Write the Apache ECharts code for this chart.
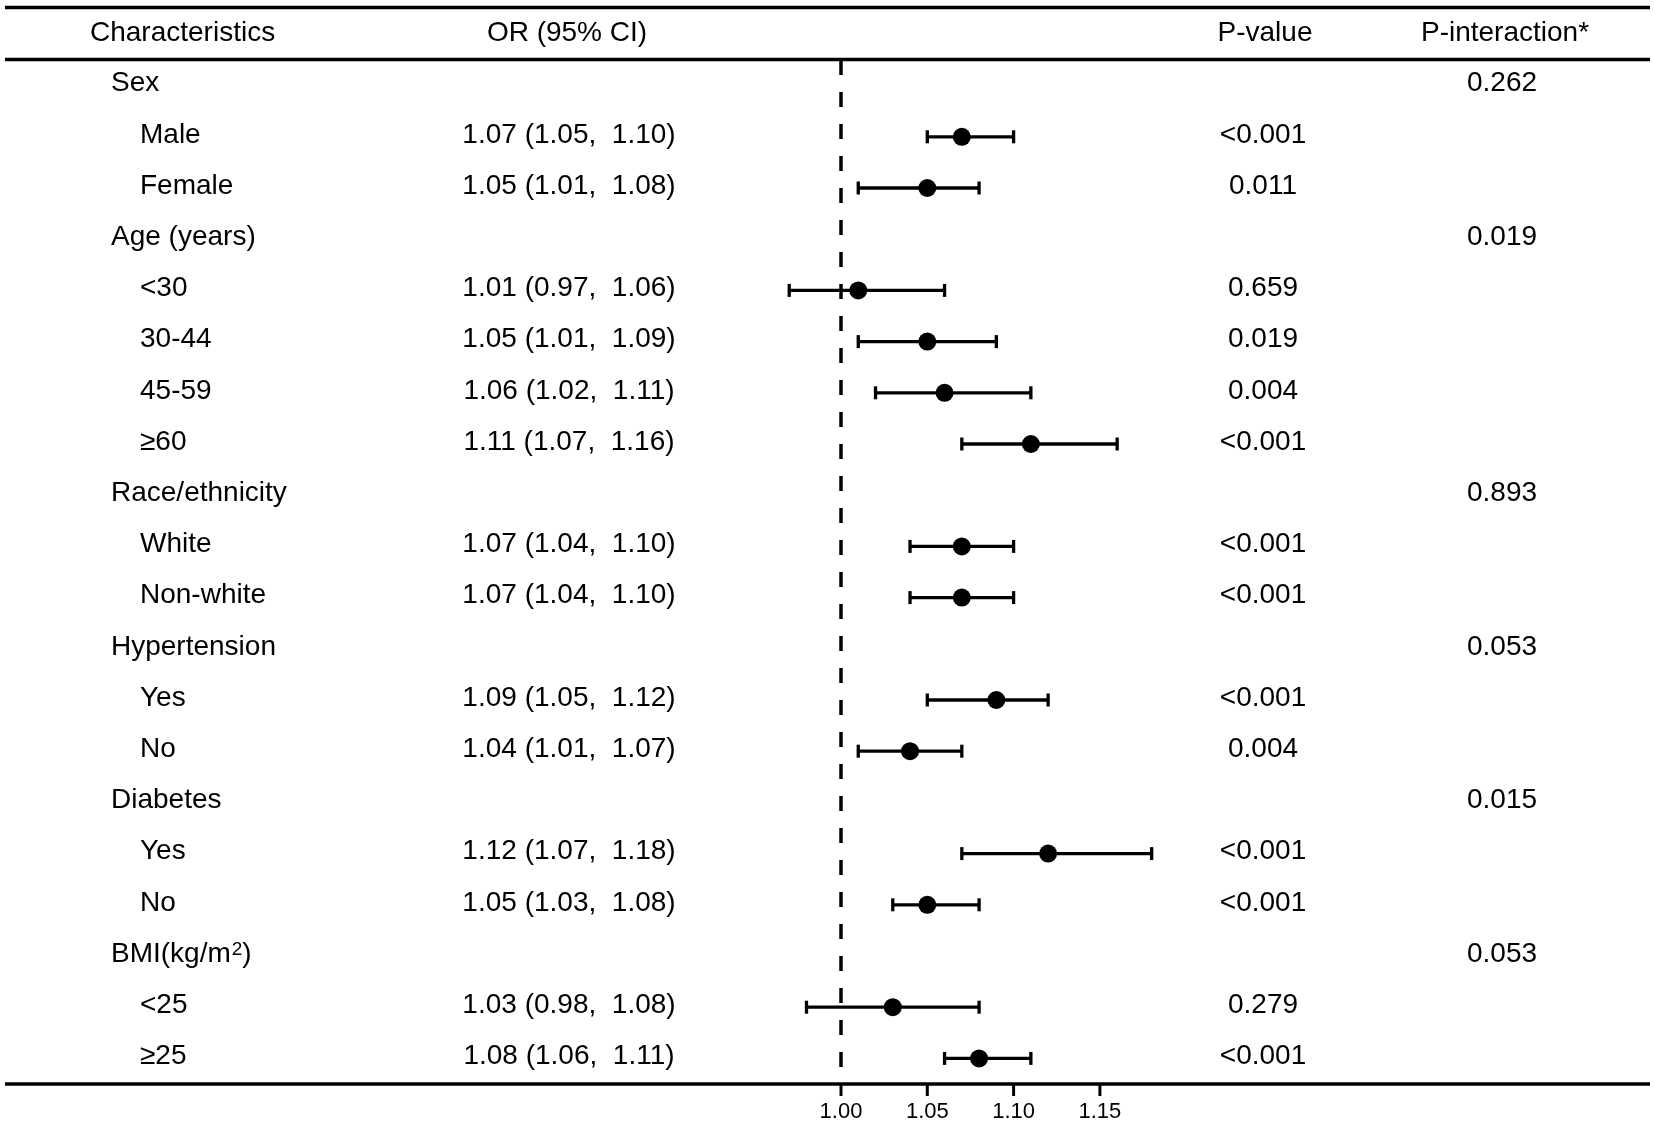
<!DOCTYPE html>
<html>
<head>
<meta charset="utf-8">
<title>Forest plot</title>
<script src="https://cdn.jsdelivr.net/npm/echarts@6/dist/echarts.min.js"></script>
<style>
  html, body { margin: 0; padding: 0; background: #fff; }
  #chart { width: 1654px; height: 1126px; }
</style>
</head>
<body>
<div id="chart"></div>
<script>
// ------------------------------
// Data
// ------------------------------
var rowLabels = [
  "Sex", "Male", "Female",
  "Age (years)", "<30", "30-44", "45-59", "\u226560",
  "Race/ethnicity", "White", "Non-white",
  "Hypertension", "Yes", "No",
  "Diabetes", "Yes", "No",
  "BMI(kg/m{sup|2})", "<25", "\u226525"
];
var isGroup = [1, 0, 0, 1, 0, 0, 0, 0, 1, 0, 0, 1, 0, 0, 1, 0, 0, 1, 0, 0];
var orValues = [null, 1.07, 1.05, null, 1.01, 1.05, 1.06, 1.11, null, 1.07, 1.07, null, 1.09, 1.04, null, 1.12, 1.05, null, 1.03, 1.08];
var ciLower = [null, 1.05, 1.01, null, 0.97, 1.01, 1.02, 1.07, null, 1.04, 1.04, null, 1.05, 1.01, null, 1.07, 1.03, null, 0.98, 1.06];
var ciUpper = [null, 1.10, 1.08, null, 1.06, 1.09, 1.11, 1.16, null, 1.10, 1.10, null, 1.12, 1.07, null, 1.18, 1.08, null, 1.08, 1.11];
var pValues = ["", "<0.001", "0.011", "", "0.659", "0.019", "0.004", "<0.001", "", "<0.001", "<0.001", "", "<0.001", "0.004", "", "<0.001", "<0.001", "", "0.279", "<0.001"];
var pInteraction = ["0.262", "", "", "0.019", "", "", "", "", "0.893", "", "", "0.053", "", "", "0.015", "", "", "0.053", "", ""];
var tickValues = [1.0, 1.05, 1.1, 1.15];

var FONT = '"Liberation Sans", Arial, sans-serif';

function fmt(v) { return v.toFixed(2); }

// build series data from the arrays
var pointData = [];
var barData = [];
var tableData = [];
for (var i = 0; i < rowLabels.length; i++) {
  tableData.push([1, i]);
  if (orValues[i] !== null) {
    pointData.push([orValues[i], i]);
    barData.push([ciLower[i], ciUpper[i], i]);
  }
}
var tickData = tickValues.map(function (v) { return [v]; });
var bottomRow = rowLabels.length - 0.5;

var chart = echarts.init(document.getElementById("chart"), null, { renderer: "canvas" });

var option = {
  backgroundColor: "#ffffff",
  animation: false,
  grid: { left: 754.7, right: 467.8, top: 60, bottom: 42 },
  xAxis: {
    type: "value",
    position: "bottom",
    min: 0.95,
    max: 1.2,
    interval: 0.05,
    splitLine: { show: false },
    axisLine: { show: false, onZero: false },
    axisTick: { show: false },
    axisLabel: {
      customValues: tickValues,
      formatter: function (v) { return fmt(v); },
      color: "#000",
      fontSize: 22,
      fontFamily: FONT,
      margin: 17
    }
  },
  yAxis: {
    type: "value",
    min: -0.5,
    max: bottomRow,
    inverse: true,
    show: false
  },
  graphic: [
    // table rules
    { type: "line", shape: { x1: 5, y1: 7.5, x2: 1650, y2: 7.5 }, style: { stroke: "#000", lineWidth: 3.5 } },
    { type: "line", shape: { x1: 5, y1: 59.5, x2: 1650, y2: 59.5 }, style: { stroke: "#000", lineWidth: 3.5 } },
    { type: "line", shape: { x1: 5, y1: 1084, x2: 1650, y2: 1084 }, style: { stroke: "#000", lineWidth: 3.5 } },
    // header
    { type: "text", x: 90, y: 33, style: { text: "Characteristics", fontSize: 28, fontFamily: FONT, fill: "#000", align: "left", verticalAlign: "middle" } },
    { type: "text", x: 567, y: 33, style: { text: "OR (95% CI)", fontSize: 28, fontFamily: FONT, fill: "#000", align: "center", verticalAlign: "middle" } },
    { type: "text", x: 1265, y: 33, style: { text: "P-value", fontSize: 28, fontFamily: FONT, fill: "#000", align: "center", verticalAlign: "middle" } },
    { type: "text", x: 1505, y: 33, style: { text: "P-interaction*", fontSize: 28, fontFamily: FONT, fill: "#000", align: "center", verticalAlign: "middle" } }
  ],
  series: [
    // table text, one row per data item, placed through the y scale
    {
      type: "custom",
      name: "table",
      silent: true,
      clip: false,
      data: tableData,
      encode: { x: 0, y: 1 },
      renderItem: function (params, api) {
        var row = api.value(1);
        var y = api.coord([1, row])[1] - 2;
        var base = { fontSize: 28, fontFamily: FONT, fill: "#000", verticalAlign: "middle" };
        var kids = [
          { type: "text", x: isGroup[row] ? 111 : 140, y: y,
            style: Object.assign({
              text: rowLabels[row], align: "left",
              rich: { sup: { fontSize: 19, fontFamily: FONT, fill: "#000", verticalAlign: "top", padding: [0, 0, 0, 1] } }
            }, base) }
        ];
        if (orValues[row] !== null) {
          kids.push({ type: "text", x: 569, y: y,
            style: Object.assign({
              text: fmt(orValues[row]) + " (" + fmt(ciLower[row]) + ",  " + fmt(ciUpper[row]) + ")",
              align: "center" }, base) });
        }
        if (pValues[row]) {
          kids.push({ type: "text", x: 1263, y: y,
            style: Object.assign({ text: pValues[row], align: "center" }, base) });
        }
        if (pInteraction[row]) {
          kids.push({ type: "text", x: 1502, y: y,
            style: Object.assign({ text: pInteraction[row], align: "center" }, base) });
        }
        return { type: "group", children: kids };
      }
    },
    // axis ticks below the bottom rule
    {
      type: "custom",
      name: "ticks",
      silent: true,
      clip: false,
      data: tickData,
      encode: { x: 0 },
      renderItem: function (params, api) {
        var p = api.coord([api.value(0), bottomRow]);
        return {
          type: "line",
          shape: { x1: p[0], y1: p[1], x2: p[0], y2: p[1] + 12 },
          style: { stroke: "#000", lineWidth: 3 }
        };
      }
    },
    // confidence interval whiskers
    {
      type: "custom",
      name: "CI",
      silent: true,
      clip: false,
      data: barData,
      encode: { x: [0, 1], y: 2 },
      renderItem: function (params, api) {
        var lo = api.coord([api.value(0), api.value(2)]);
        var hi = api.coord([api.value(1), api.value(2)]);
        var cap = 6.5;
        var st = { stroke: "#000", lineWidth: 3.3 };
        return {
          type: "group",
          children: [
            { type: "line", shape: { x1: lo[0], y1: lo[1], x2: hi[0], y2: hi[1] }, style: st },
            { type: "line", shape: { x1: lo[0], y1: lo[1] - cap, x2: lo[0], y2: lo[1] + cap }, style: st },
            { type: "line", shape: { x1: hi[0], y1: hi[1] - cap, x2: hi[0], y2: hi[1] + cap }, style: st }
          ]
        };
      }
    },
    // point estimates + reference line at OR = 1
    {
      type: "scatter",
      name: "OR",
      silent: true,
      data: pointData,
      symbol: "circle",
      symbolSize: 18,
      itemStyle: { color: "#000", opacity: 1 },
      z: 5,
      markLine: {
        silent: true,
        symbol: "none",
        label: { show: false },
        lineStyle: { color: "#000", width: 3.5, type: [15, 17], opacity: 1 },
        data: [{ xAxis: 1 }]
      }
    }
  ]
};
chart.setOption(option);

window.addEventListener("resize", function () {
  chart.resize();
});
</script>
</body>
</html>
